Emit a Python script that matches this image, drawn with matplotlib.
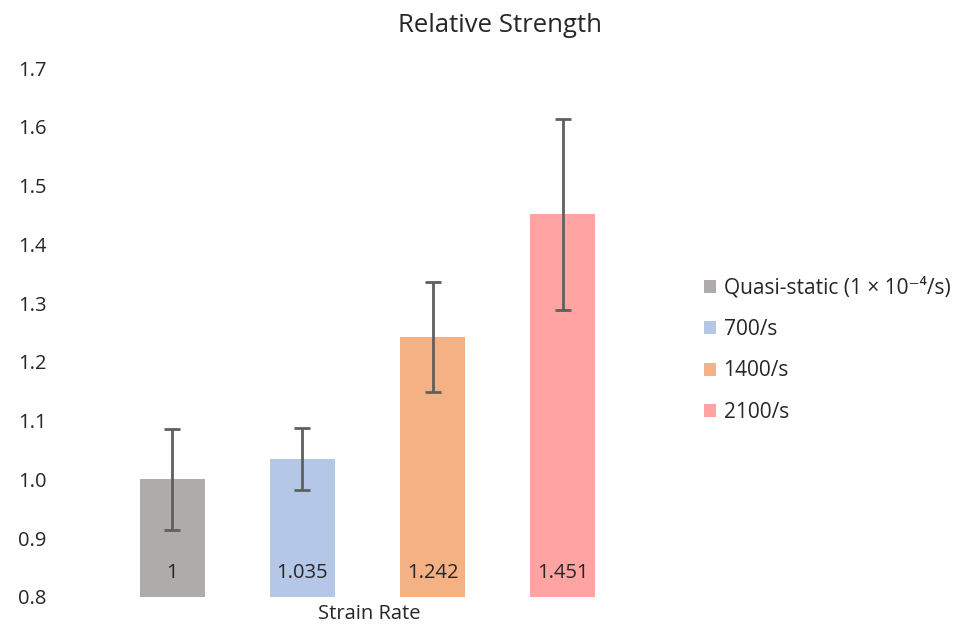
import numpy as np
import matplotlib.pyplot as plt

plt.rcParams['font.family'] = ['Open Sans', 'DejaVu Sans']

# data
series = ['Quasi-static (1 × 10⁻⁴/s)', '700/s', '1400/s', '2100/s']
values = [1.0, 1.035, 1.242, 1.451]
errors = [0.086, 0.053, 0.094, 0.162]
bar_labels = ['1', '1.035', '1.242', '1.451']
colors = ['#AFABAB', '#B4C7E7', '#F4B183', '#FFA3A3']
yticks = [0.8, 0.9, 1.0, 1.1, 1.2, 1.3, 1.4, 1.5, 1.6, 1.7]

fig = plt.figure(figsize=(9.64, 6.26), dpi=100)
ax = fig.add_axes([80/964, 29/626, 575/964, 529/626])

x = np.arange(len(values))
for i in range(len(values)):
    ax.bar(x[i], values[i] - 0.8, bottom=0.8, width=0.5, color=colors[i],
           label=series[i], yerr=errors[i], capsize=6,
           error_kw=dict(ecolor='#5f5f5f', elinewidth=2, capthick=2))
    ax.text(x[i], 0.841, bar_labels[i], ha='center', va='center',
            fontsize=14.5, color='#262626')

ax.set_xlim(1.5 - 2.21, 1.5 + 2.21)
ax.set_ylim(0.8, 1.7)
ax.set_yticks(yticks)
ax.set_yticklabels(['%.1f' % t for t in yticks], fontsize=14.5, color='#262626')
ax.set_xticks([])
ax.tick_params(axis='y', length=0, pad=24)
for s in ax.spines.values():
    s.set_visible(False)

fig.text(369/964, 1 - 614/626, 'Strain Rate', ha='center', va='center',
         fontsize=14.5, color='#262626')
fig.text(500/964, 1 - 25/626, 'Relative Strength', ha='center', va='center',
         fontsize=18.5, color='#262626')

fig.legend(loc='center left', bbox_to_anchor=(685/964, 1 - 350/626),
           frameon=False, fontsize=15, handlelength=0.6, handleheight=0.6,
           handletextpad=0.35, labelspacing=0.98, labelcolor='#262626')

fig.savefig('out.png', dpi=100)
